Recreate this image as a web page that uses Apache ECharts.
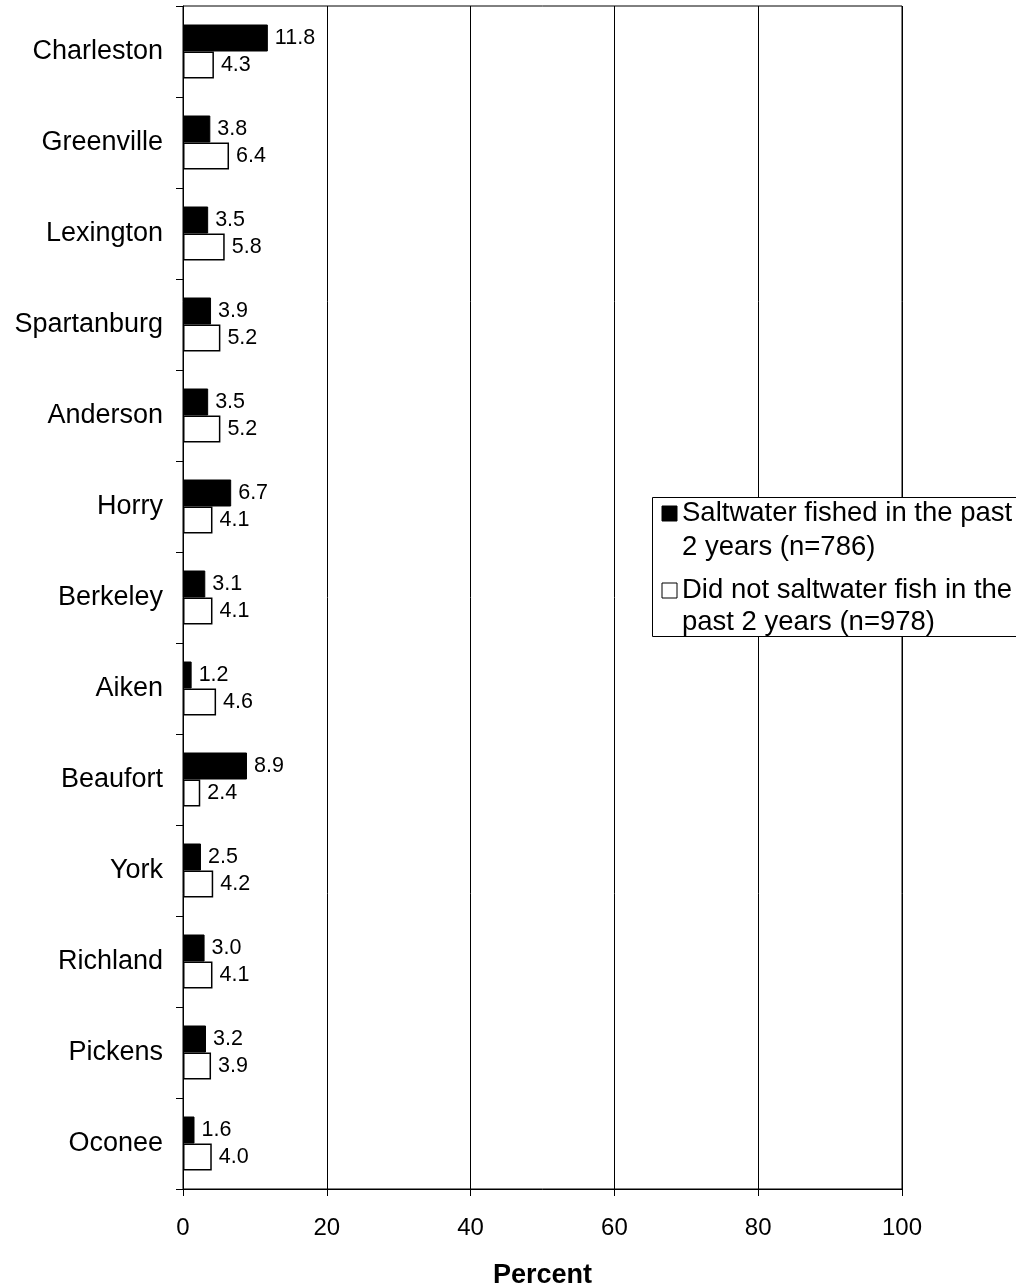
<!DOCTYPE html>
<html>
<head>
<meta charset="utf-8">
<script src="https://cdn.jsdelivr.net/npm/echarts@6/dist/echarts.min.js"></script>
<style>
html,body{margin:0;padding:0;background:#fff;}
#chart{width:1016px;height:1287px;}
</style>
</head>
<body>
<div id="chart"></div>
<script>
const categories = ['Charleston','Greenville','Lexington','Spartanburg','Anderson','Horry','Berkeley','Aiken','Beaufort','York','Richland','Pickens','Oconee'];
const fishedValues = [11.8, 3.8, 3.5, 3.9, 3.5, 6.7, 3.1, 1.2, 8.9, 2.5, 3.0, 3.2, 1.6];
const notFishedValues = [4.3, 6.4, 5.8, 5.2, 5.2, 4.1, 4.1, 4.6, 2.4, 4.2, 4.1, 3.9, 4.0];
const seriesNames = ['Saltwater fished in the past 2 years (n=786)', 'Did not saltwater fish in the past 2 years (n=978)'];
const legendLines = [['Saltwater fished in the past', '2 years (n=786)'], ['Did not saltwater fish in the', 'past 2 years (n=978)']];
const xTicks = [0, 20, 40, 60, 80, 100];

const FONT = 'Liberation Sans, Arial, sans-serif';
const chart = echarts.init(document.getElementById('chart'));

const labelCfg = {
  show: true, position: 'right', distance: 7, color: '#000',
  fontFamily: FONT, fontSize: 21.5,
  formatter: p => p.value.toFixed(1)
};

const option = {
  animation: false,
  backgroundColor: '#fff',
  grid: { left: 183, right: 114, top: 6, bottom: 98, outerBoundsMode: 'none', containLabel: false, show: true, borderColor: '#000', borderWidth: 1, backgroundColor: 'transparent' },
  xAxis: {
    type: 'value', min: xTicks[0], max: xTicks[xTicks.length - 1], interval: 20,
    name: 'Percent', nameLocation: 'middle', nameGap: 73,
    nameTextStyle: { fontFamily: FONT, fontSize: 27, fontWeight: 'bold', color: '#000' },
    axisLine: { show: true, lineStyle: { color: '#000', width: 1 } },
    axisTick: { show: true, length: 7, lineStyle: { color: '#000' } },
    axisLabel: { fontFamily: FONT, fontSize: 24, color: '#000', margin: 27 },
    splitLine: { show: true, lineStyle: { color: '#000', width: 1 } }
  },
  yAxis: {
    type: 'category', data: categories, inverse: true,
    axisLine: { show: true, lineStyle: { color: '#000', width: 1 } },
    axisTick: { show: true, length: 7, lineStyle: { color: '#000' } },
    axisLabel: { fontFamily: FONT, fontSize: 27, color: '#000', margin: 20, padding: [4, 0, 0, 0] },
    splitLine: { show: false }
  },
  series: [
    {
      name: seriesNames[0], type: 'bar', data: fishedValues,
      barWidth: 27, barGap: '0%',
      itemStyle: { color: '#000', borderColor: '#000', borderWidth: 1 },
      label: labelCfg
    },
    {
      name: seriesNames[1], type: 'bar', data: notFishedValues,
      barWidth: 27, barGap: '0%',
      itemStyle: { color: '#fff', borderColor: '#000', borderWidth: 1.5 },
      label: labelCfg
    }
  ],
  graphic: [
    { type: 'rect', left: 652, top: 497, shape: { width: 400, height: 139 }, style: { fill: '#fff', stroke: '#000', lineWidth: 1 }, z: 100 },
    { type: 'rect', x: 662, y: 506, shape: { width: 15, height: 15 }, style: { fill: '#000', stroke: '#000', lineWidth: 1 }, z: 101 },
    { type: 'text', x: 682, y: 513, style: { text: legendLines[0][0], font: '27.5px ' + FONT, fill: '#000', verticalAlign: 'middle' }, z: 101 },
    { type: 'text', x: 682, y: 547, style: { text: legendLines[0][1], font: '27.5px ' + FONT, fill: '#000', verticalAlign: 'middle' }, z: 101 },
    { type: 'rect', x: 662, y: 583, shape: { width: 15, height: 15 }, style: { fill: '#fff', stroke: '#000', lineWidth: 1 }, z: 101 },
    { type: 'text', x: 682, y: 590, style: { text: legendLines[1][0], font: '27.5px ' + FONT, fill: '#000', verticalAlign: 'middle' }, z: 101 },
    { type: 'text', x: 682, y: 622, style: { text: legendLines[1][1], font: '27.5px ' + FONT, fill: '#000', verticalAlign: 'middle' }, z: 101 }
  ]
};
chart.setOption(option);
</script>
</body>
</html>
